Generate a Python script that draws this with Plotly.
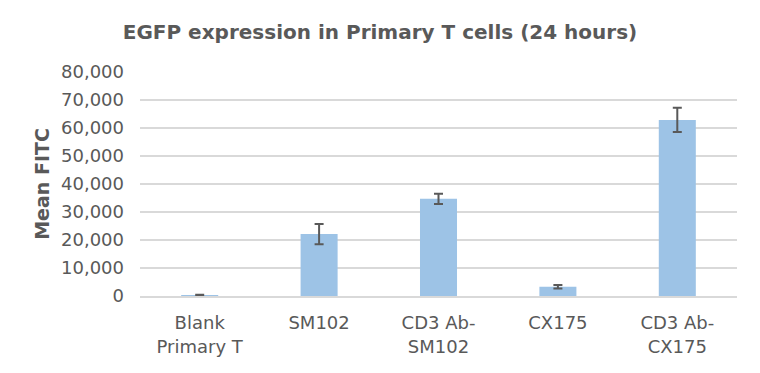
import plotly.graph_objects as go

categories = ["Blank<br>Primary T", "SM102", "CD3 Ab-<br>SM102", "CX175", "CD3 Ab-<br>CX175"]
mean_fitc = [300, 22100, 34700, 3300, 62900]
error_vals = [150, 3600, 1850, 650, 4350]
y_ticks = [0, 10000, 20000, 30000, 40000, 50000, 60000, 70000, 80000]
y_tick_labels = ["0", "10,000", "20,000", "30,000", "40,000", "50,000", "60,000", "70,000", "80,000"]

font_family = "'DejaVu Sans', sans-serif"
grey = "#595959"

fig = go.Figure()
fig.add_trace(go.Bar(
    x=categories,
    y=mean_fitc,
    marker=dict(color="#9DC3E6", line=dict(width=0)),
    width=0.31,
    error_y=dict(type="data", array=error_vals, visible=True,
                 color=grey, thickness=2, width=4.5),
))

fig.update_layout(
    width=760, height=373,
    margin=dict(l=140, r=23, t=72, b=77),
    paper_bgcolor="white", plot_bgcolor="white",
    showlegend=False,
    title=dict(text="<b>EGFP expression in Primary T cells (24 hours)</b>",
               x=0.5, xanchor="center", y=1 - 32 / 373, yanchor="middle",
               font=dict(family=font_family, size=20, color=grey)),
    font=dict(family=font_family, color=grey),
)
fig.update_xaxes(
    showgrid=False, showline=True, linecolor="#D9D9D9", linewidth=1.5,
    tickfont=dict(size=18, color=grey), ticks="", ticklabelstandoff=10,
)
fig.update_yaxes(
    range=[0, 80000], tickvals=y_ticks, ticktext=y_tick_labels,
    showgrid=True, gridcolor="#D9D9D9", gridwidth=1.5,
    zeroline=False, showline=False, ticks="", ticklen=0,
    tickfont=dict(size=18, color=grey), ticklabelstandoff=15,
    title=dict(text="<b>Mean FITC</b>", font=dict(size=19, color=grey), standoff=6),
)

fig.write_html("out.html", config={"displayModeBar": False},
               post_script="document.body.style.margin='0px';")
